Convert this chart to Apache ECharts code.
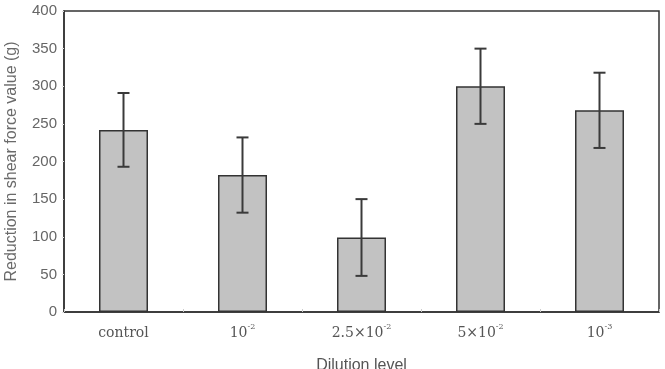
<!DOCTYPE html>
<html>
<head>
<meta charset="utf-8">
<script src="https://cdn.jsdelivr.net/npm/echarts@6/dist/echarts.min.js"></script>
<style>
  html, body { margin: 0; padding: 0; background: #fff; }
  #main { width: 665px; height: 369px; }
</style>
</head>
<body>
<div id="main"></div>
<script>
var categories = ['control', '10^-2', '2.5×10^-2', '5×10^-2', '10^-3'];
var meanValues = [242, 182, 99, 300, 268];
var errValues = [49, 50, 51, 50, 50];
var yTicks = [0, 50, 100, 150, 200, 250, 300, 350, 400];

window.onload = function () {
  var chart = echarts.init(document.getElementById('main'));

  // error bar data: [index, low, high]
  var errData = meanValues.map(function (v, i) {
    return [i, v - errValues[i], v + errValues[i]];
  });

  var option = {
    animation: false,
    grid: {
      left: 64, right: 6, top: 11, bottom: 57,
      containLabel: false, outerBoundsMode: 'none',
      show: true, borderColor: '#333', borderWidth: 1.5
    },
    xAxis: {
      type: 'category',
      data: categories,
      name: 'Dilution level',
      nameLocation: 'middle',
      nameGap: 46,
      nameTextStyle: { color: '#555', fontSize: 16, fontFamily: 'Liberation Sans' },
      axisLine: { lineStyle: { color: '#333', width: 1.5 } },
      axisTick: { show: true, length: 3, inside: true, lineStyle: { color: '#ccc' } },
      axisLabel: {
        margin: 11,
        color: '#555',
        formatter: function (s) {
          var p = s.split('^');
          if (p.length === 1) return '{b|' + s + '}';
          return '{b|' + p[0] + '}{s|' + p[1] + '}';
        },
        rich: {
          b: { fontFamily: 'DejaVu Serif', fontSize: 14, color: '#555', verticalAlign: 'bottom', lineHeight: 17 },
          s: { fontFamily: 'DejaVu Serif', fontSize: 8, color: '#555', verticalAlign: 'top', lineHeight: 17 }
        }
      }
    },
    yAxis: {
      type: 'value',
      min: yTicks[0],
      max: yTicks[yTicks.length - 1],
      interval: 50,
      name: 'Reduction in shear force value (g)',
      nameLocation: 'middle',
      nameGap: 44,
      nameTextStyle: { color: '#6a6a6a', fontSize: 16, fontFamily: 'Liberation Sans' },
      axisLine: { show: true, lineStyle: { color: '#333', width: 1.5 } },
      axisTick: { show: true, length: 2, lineStyle: { color: '#ddd' } },
      splitLine: { show: false },
      axisLabel: { color: '#666', fontSize: 15, fontFamily: 'Liberation Sans', margin: 7 }
    },
    series: [
      {
        type: 'bar',
        data: meanValues,
        barWidth: 49,
        itemStyle: { color: '#c2c2c2', borderColor: '#333', borderWidth: 1.5 }
      },
      {
        type: 'custom',
        data: errData,
        z: 5,
        renderItem: function (params, api) {
          var x = api.value(0);
          var lo = api.coord([x, api.value(1)]);
          var hi = api.coord([x, api.value(2)]);
          var hw = 6;
          var st = { stroke: '#3a3a3a', lineWidth: 2 };
          return {
            type: 'group',
            children: [
              { type: 'line', shape: { x1: hi[0], y1: hi[1], x2: lo[0], y2: lo[1] }, style: st },
              { type: 'line', shape: { x1: hi[0] - hw, y1: hi[1], x2: hi[0] + hw, y2: hi[1] }, style: st },
              { type: 'line', shape: { x1: lo[0] - hw, y1: lo[1], x2: lo[0] + hw, y2: lo[1] }, style: st }
            ]
          };
        }
      }
    ]
  };
  chart.setOption(option);
};
</script>
</body>
</html>
